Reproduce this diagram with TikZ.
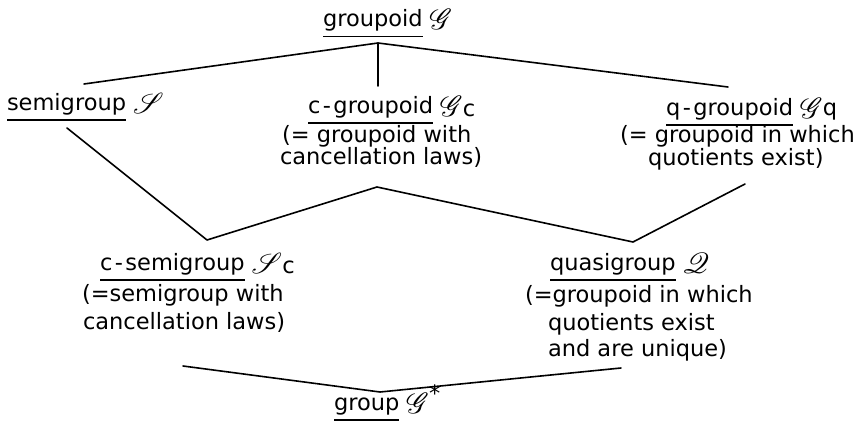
\RequirePackage{fix-cm}
\documentclass[tikz,border=0pt]{standalone}
\usepackage{fontspec}
\setmainfont{DejaVu Sans}
\usepackage{amsmath}
\usepackage{mathrsfs}
\usepackage{graphicx}
\newcommand\ulw[1]{\setbox0\hbox{#1}\rlap{\rule[-10.5pt]{\wd0}{1.4pt}}\box0}
\newcommand\scr[1]{\hspace{7pt}\raisebox{-3pt}{\scalebox{1.4}{$\mathscr{#1}$}}}
\newcommand\hy{\kern2.5pt-\kern2.5pt}
\newcommand\sub[1]{\raisebox{-3pt}{#1}}
\tikzset{
  lbl/.style={anchor=base west, inner sep=0pt, outer sep=0pt, font=\fontsize{22.5}{26}\selectfont},
  conn/.style={line width=1.6pt, line cap=round, line join=round}
}
\begin{document}
\begin{tikzpicture}[x=1pt,y=-1pt]
\useasboundingbox (0,0) rectangle (857,423);
% labels
\node[lbl] (G) at (323,27) {\ulw{groupoid}\scr{G}};
\node[lbl] (S) at (7,110) {\ulw{semigroup}\scr{S}};
\node[lbl] (Gc1) at (308,113) {\ulw{c\hy groupoid}\scr{G}\sub{c}};
\node[lbl] (Gc2) at (282,142) {(= groupoid with};
\node[lbl] (Gc3) at (280,164) {cancellation laws)};
\node[lbl] (Gq1) at (666,115) {\ulw{q\hy groupoid}\scr{G}q};
\node[lbl] (Gq2) at (620,142) {(= groupoid in which};
\node[lbl] (Gq3) at (648,165) {quotients exist)};
\node[lbl] (Sc1) at (100,270) {\ulw{c\hy semigroup}\scr{S}\sub{c}};
\node[lbl] (Sc2) at (82,301) {(=semigroup with};
\node[lbl] (Sc3) at (83,329) {cancellation laws)};
\node[lbl] (Q1) at (550,270) {\ulw{quasigroup}\scr{Q}};
\node[lbl] (Q2) at (525,302) {(=groupoid in which};
\node[lbl] (Q3) at (548,330) {quotients exist};
\node[lbl] (Q4) at (548,356) {and are unique)};
\node[lbl] (Gs) at (334,410) {\ulw{group}\scr{G}\raisebox{9pt}{*}};
% connector points
\coordinate (top) at (378,43);
\coordinate (topL) at (84,84);
\coordinate (topR) at (728,87);
\coordinate (topM) at (378,86);
\coordinate (sL) at (67,128);
\coordinate (vL) at (207,240);
\coordinate (cM) at (377,187);
\coordinate (vR) at (633,242);
\coordinate (qR) at (745,184);
\coordinate (bL) at (183,366);
\coordinate (bot) at (380,392);
\coordinate (bR) at (621,368);
\draw[conn] (topL) -- (top) -- (topR);
\draw[conn] (top) -- (topM);
\draw[conn] (sL) -- (vL) -- (cM) -- (vR) -- (qR);
\draw[conn] (bL) -- (bot) -- (bR);
\end{tikzpicture}
\end{document}
